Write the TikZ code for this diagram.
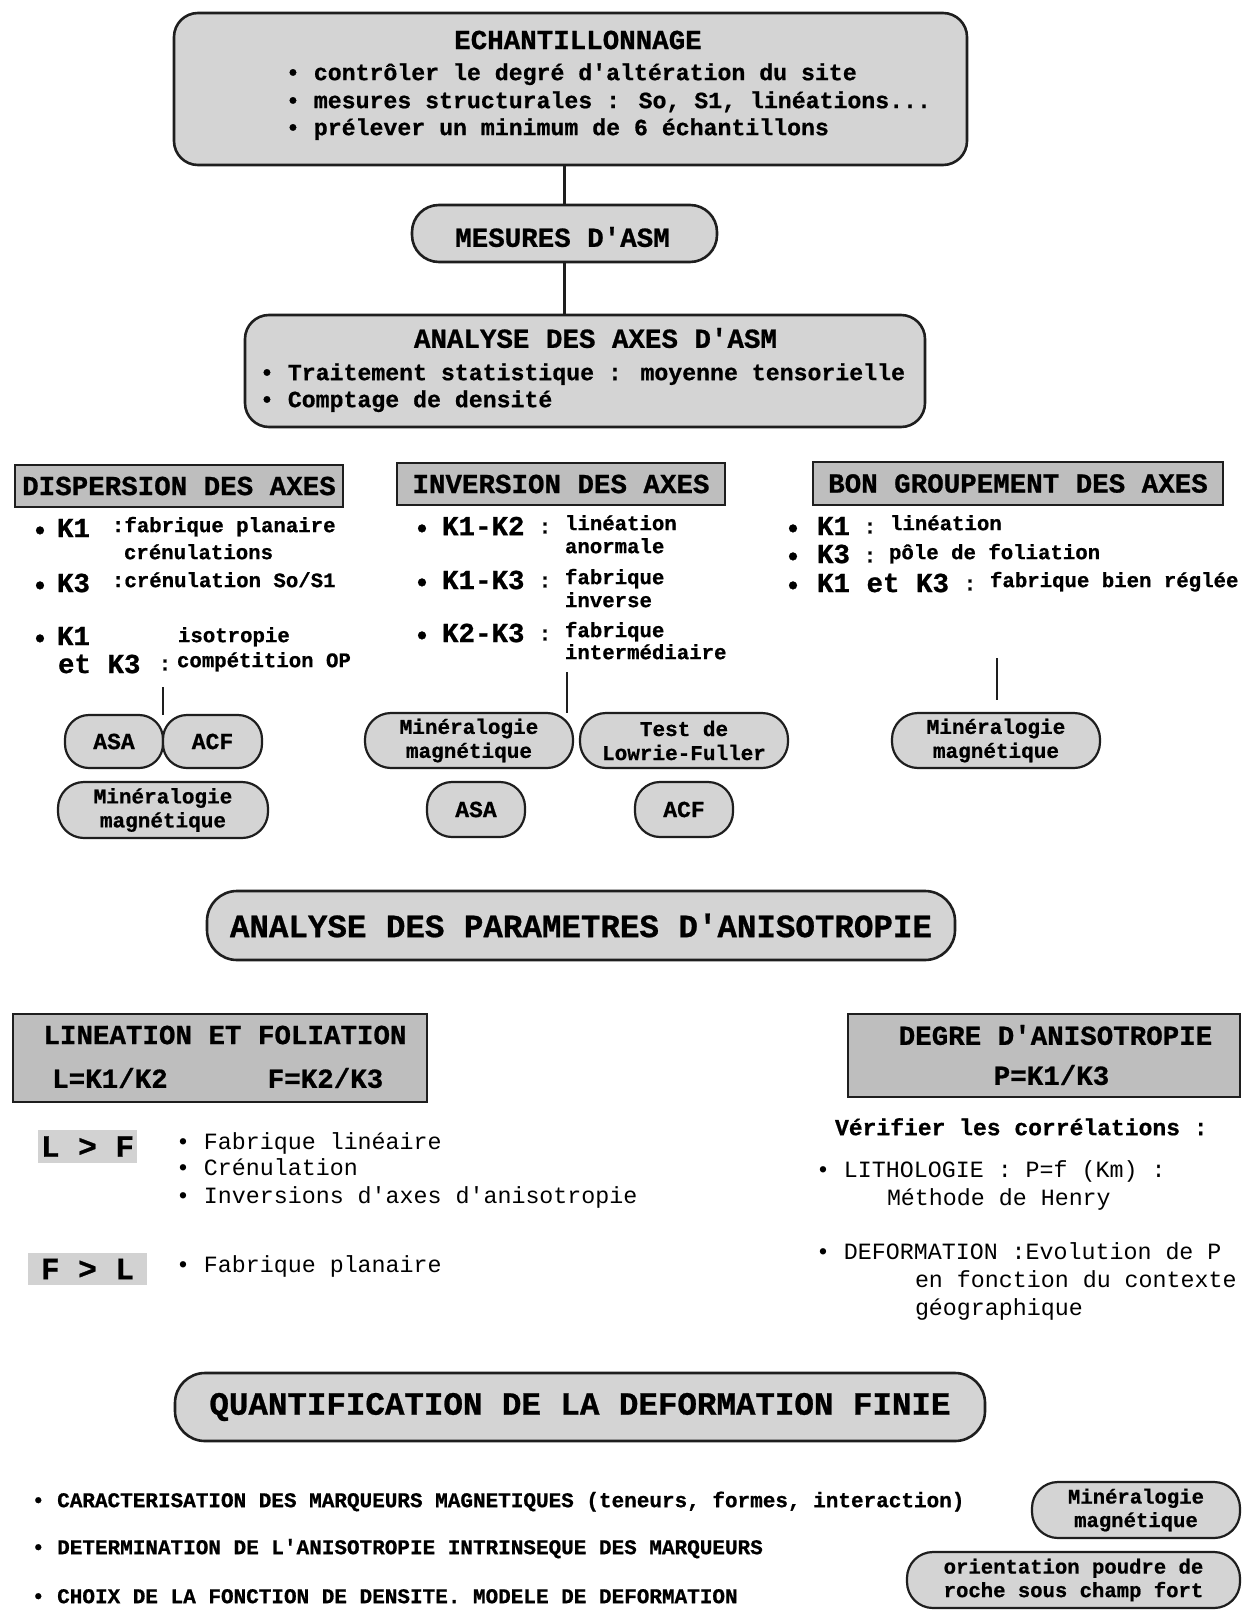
\documentclass[tikz,border=0pt]{standalone}
\usepackage{fontspec}
\newfontfamily\mono{Liberation Mono}[BoldFeatures={FakeBold=0.8}]
\definecolor{ink}{HTML}{1E1E1E}
\definecolor{shade}{HTML}{D4D4D4}
\definecolor{shadedark}{HTML}{BEBEBE}
\definecolor{shadelight}{HTML}{D2D2D2}
\begin{document}
\begin{tikzpicture}[x=1pt,y=-1pt,
  every node/.style={inner sep=0pt,outer sep=0pt},
  lbl/.style={anchor=mid west},
  clbl/.style={anchor=west,yshift=2pt},
  rbox/.style={draw=ink,line width=2.6pt,fill=shade,rounded corners=24pt},
  pill/.style={draw=ink,line width=2.2pt,fill=shade,align=center},
  hbox/.style={draw=ink,line width=2.6pt,fill=shadedark},
  tag/.style={fill=shadelight},
  link/.style={draw=ink,line width=2.4pt},
  fttl/.style={font=\mono\bfseries\fontsize{27.5}{30}\selectfont},
  fbody/.style={font=\mono\bfseries\fontsize{23.2}{27}\selectfont},
  fk/.style={font=\mono\bfseries\fontsize{27.5}{30}\selectfont},
  kdot/.style={fk,yshift=-3pt},
  fdesc/.style={font=\mono\bfseries\fontsize{20.7}{24}\selectfont},
  fpill/.style={font=\mono\bfseries\fontsize{21}{24}\selectfont},
  fasa/.style={font=\mono\bfseries\fontsize{23}{26}\selectfont},
  fbig/.style={font=\mono\bfseries\fontsize{32.5}{36}\selectfont},
  ftag/.style={font=\mono\bfseries\fontsize{31}{34}\selectfont},
  flow/.style={font=\mono\fontsize{23.3}{27}\selectfont},
  fverif/.style={font=\mono\bfseries\fontsize{23}{27}\selectfont},
  fbot/.style={font=\mono\bfseries\fontsize{21}{24}\selectfont},
  fbpill/.style={font=\mono\bfseries\fontsize{20.6}{23.5}\selectfont}
]
\fill[white] (0,0) rectangle (1242,1613);
\useasboundingbox (0,0) rectangle (1242,1613);

% ---- sampling ----
\node[rbox,minimum width=793pt,minimum height=152pt] (echant) at (570.5,89) {};
\node[fttl] (echantT) at (578,40) {ECHANTILLONNAGE};
\node[lbl,fbody] (e1) at (286,78) {• contrôler le degré d'altération du site};
\node[lbl,fbody] (e2) at (286,106) {• mesures structurales : So, S1, linéations...};
\node[lbl,fbody] (e3) at (286,133) {• prélever un minimum de 6 échantillons};

% ---- measurements ----
\node[rbox,minimum width=305pt,minimum height=57pt,rounded corners=27pt] (mesures) at (564.5,233.5) {};
\node[fttl] (mesuresT) at (562.5,237) {MESURES D'ASM};

% ---- axes analysis ----
\node[rbox,minimum width=680pt,minimum height=112pt] (analyse) at (585,371) {};
\node[fttl] (analyseT) at (595.5,338) {ANALYSE DES AXES D'ASM};
\node[lbl,fbody] (a1) at (260,378) {• Traitement statistique : moyenne tensorielle};
\node[lbl,fbody] (a2) at (260,405) {• Comptage de densité};

\draw[link] (mesures.north) -- (mesures.north |- echant.south);
\draw[link] (mesures.south) -- (mesures.south |- analyse.north);

% ---- three cases ----
\node[hbox,fttl,minimum width=328pt,minimum height=42pt] (disp) at (179,486) {DISPERSION DES AXES};
\node[hbox,fttl,minimum width=328pt,minimum height=42pt] (inv) at (561,484) {INVERSION DES AXES};
\node[hbox,fttl,minimum width=410pt,minimum height=43pt] (bon) at (1018,483.5) {BON GROUPEMENT DES AXES};

% dispersion
\node[kdot] (db1) at (40,530) {•};
\node[clbl,fk] (dk1) at (57,530) {K1};
\node[lbl,fdesc] (dd1) at (112,530) {:fabrique planaire};
\node[lbl,fdesc] (dd1b) at (124,557) {crénulations};
\node[kdot] (db2) at (40,585) {•};
\node[clbl,fk] (dk2) at (57,585) {K3};
\node[lbl,fdesc] (dd2) at (112,585) {:crénulation So/S1};
\node[kdot] (db3) at (40,638) {•};
\node[clbl,fk] (dk3) at (57,638) {K1};
\node[lbl,fdesc] (dd3) at (178,640) {isotropie};
\node[clbl,fk] (dk3b) at (58,666) {et K3};
\node[fdesc] (dc3) at (165,665) {:};
\node[lbl,fdesc] (dd3b) at (177,665) {compétition OP};

% inversion
\node[kdot] (ib1) at (422,528) {•};
\node[clbl,fk] (ik1) at (442,528) {K1-K2};
\node[fdesc] (ic1) at (545,528) {:};
\node[lbl,fdesc] (id1) at (565,528) {linéation};
\node[lbl,fdesc] (id1b) at (565,551) {anormale};
\node[kdot] (ib2) at (422,582) {•};
\node[clbl,fk] (ik2) at (442,582) {K1-K3};
\node[fdesc] (ic2) at (545,582) {:};
\node[lbl,fdesc] (id2) at (565,582) {fabrique};
\node[lbl,fdesc] (id2b) at (565,605) {inverse};
\node[kdot] (ib3) at (422,635) {•};
\node[clbl,fk] (ik3) at (442,635) {K2-K3};
\node[fdesc] (ic3) at (545,635) {:};
\node[lbl,fdesc] (id3) at (565,635) {fabrique};
\node[lbl,fdesc] (id3b) at (565,657) {intermédiaire};

% good grouping
\node[kdot] (bb1) at (793,528) {•};
\node[clbl,fk] (bk1) at (817,528) {K1};
\node[fdesc] (bc1) at (870,528) {:};
\node[lbl,fdesc] (bd1) at (890,528) {linéation};
\node[kdot] (bb2) at (793,556) {•};
\node[clbl,fk] (bk2) at (817,556) {K3};
\node[fdesc] (bc2) at (870,557) {:};
\node[lbl,fdesc] (bd2) at (889,557) {pôle de foliation};
\node[kdot] (bb3) at (793,585) {•};
\node[clbl,fk] (bk3) at (817,585) {K1 et K3};
\node[fdesc] (bc3) at (970,585) {:};
\node[lbl,fdesc] (bd3) at (990,585) {fabrique bien réglée};

% methods
\node[pill,fasa,minimum width=98pt,minimum height=53pt,rounded corners=24pt] (asa1) at (114,741.5) {ASA};
\node[pill,fasa,minimum width=99pt,minimum height=53pt,rounded corners=24pt] (acf1) at (212.5,741.5) {ACF};
\node[pill,fpill,minimum width=210pt,minimum height=56pt,rounded corners=26pt] (min1) at (163,810) {Minéralogie\\magnétique};
\node[pill,fpill,minimum width=208pt,minimum height=55pt,rounded corners=26pt] (min2) at (469,740.5) {Minéralogie\\magnétique};
\node[pill,fpill,minimum width=208pt,minimum height=55pt,rounded corners=26pt] (test2) at (684,740.5) {Test de\\Lowrie-Fuller};
\node[pill,fasa,minimum width=98pt,minimum height=55pt,rounded corners=25pt] (asa2) at (476,809.5) {ASA};
\node[pill,fasa,minimum width=98pt,minimum height=55pt,rounded corners=25pt] (acf2) at (684,809.5) {ACF};
\node[pill,fpill,minimum width=208pt,minimum height=55pt,rounded corners=26pt] (min3) at (996,740.5) {Minéralogie\\magnétique};

\coordinate (d0) at (163,687);
\draw[link] (d0) -- (asa1.north east);
\coordinate (i0) at (567,672);
\draw[link] (i0) -- (i0 |- min2.north);
\coordinate (b0) at (997,658);
\coordinate (b1) at ([yshift=13pt]min3.north);
\draw[link] (b0) -- (b0 |- b1);

% ---- anisotropy parameters ----
\node[rbox,fbig,minimum width=748pt,minimum height=69pt,rounded corners=30pt] (param) at (581,925.5) {ANALYSE DES PARAMETRES D'ANISOTROPIE};

\node[hbox,minimum width=414pt,minimum height=88pt] (linfol) at (220,1058) {};
\node[fttl] (linfolT) at (225,1035) {LINEATION ET FOLIATION};
\node[fttl] (lratio) at (110,1078) {L=K1/K2};
\node[fttl] (fratio) at (325.5,1078) {F=K2/K3};

\node[hbox,minimum width=392pt,minimum height=83pt] (degre) at (1044,1055.5) {};
\node[fttl] (degreT) at (1055.5,1035) {DEGRE D'ANISOTROPIE};
\node[fttl] (pratio) at (1051.5,1075) {P=K1/K3};

\node[tag,ftag,minimum width=99pt,minimum height=33pt] (lf) at (87.5,1146.5) {L > F};
\node[lbl,flow] (lf1) at (176,1147) {• Fabrique linéaire};
\node[lbl,flow] (lf2) at (176,1173) {• Crénulation};
\node[lbl,flow] (lf3) at (176,1201) {• Inversions d'axes d'anisotropie};
\node[tag,ftag,minimum width=119pt,minimum height=32pt] (fl) at (87.5,1269) {F > L};
\node[lbl,flow] (fl1) at (176,1270) {• Fabrique planaire};

\node[lbl,fverif] (verif) at (835,1133) {Vérifier les corrélations :};
\node[lbl,flow] (v1) at (816,1175) {• LITHOLOGIE : P=f (Km) :};
\node[lbl,flow] (v1b) at (887,1203) {Méthode de Henry};
\node[lbl,flow] (v2) at (816,1257) {• DEFORMATION :Evolution de P};
\node[lbl,flow] (v2b) at (915,1285) {en fonction du contexte};
\node[lbl,flow] (v2c) at (915,1313) {géographique};

% ---- finite strain ----
\node[rbox,fbig,minimum width=810pt,minimum height=68pt,rounded corners=30pt] (quant) at (580,1407) {QUANTIFICATION DE LA DEFORMATION FINIE};

\node[lbl,fbot] (q1) at (32,1505) {• CARACTERISATION DES MARQUEURS MAGNETIQUES (teneurs, formes, interaction)};
\node[lbl,fbot] (q2) at (32,1552) {• DETERMINATION DE L'ANISOTROPIE INTRINSEQUE DES MARQUEURS};
\node[lbl,fbot] (q3) at (32,1601) {• CHOIX DE LA FONCTION DE DENSITE. MODELE DE DEFORMATION};

\node[pill,fbpill,minimum width=208pt,minimum height=56pt,rounded corners=26pt] (min4) at (1136,1510) {Minéralogie\\magnétique};
\node[pill,fbpill,minimum width=333pt,minimum height=56pt,rounded corners=26pt] (orient) at (1073.5,1580) {orientation poudre de\\roche sous champ fort};
\end{tikzpicture}
\end{document}
